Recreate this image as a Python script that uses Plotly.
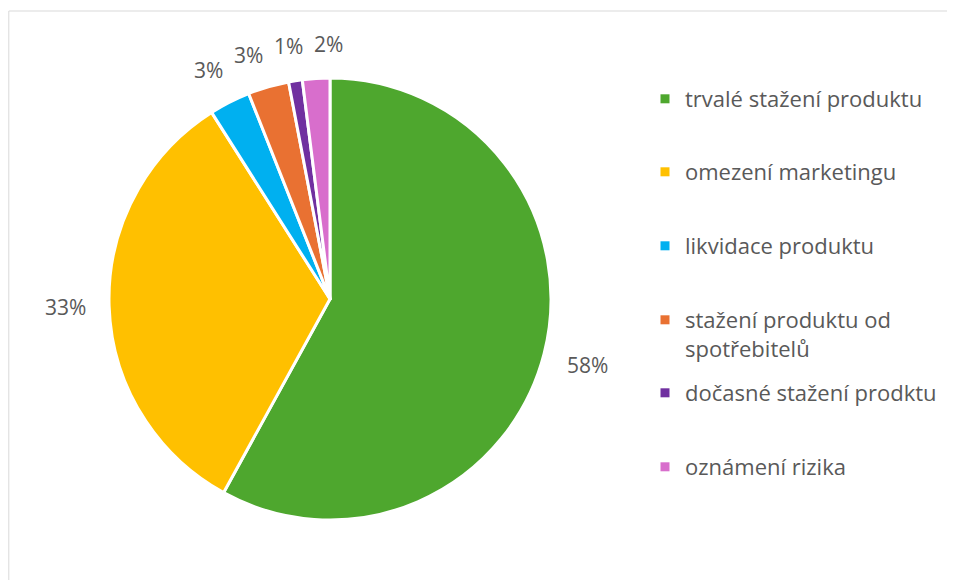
import math
import plotly.graph_objects as go

# data
categories = [
    "trvalé stažení produktu",
    "omezení marketingu",
    "likvidace produktu",
    "stažení produktu od<br>spotřebitelů",
    "dočasné stažení prodktu",
    "oznámení rizika",
]
values = [58, 33, 3, 3, 1, 2]
colors = ["#4EA72E", "#FFC000", "#00B0F0", "#E97132", "#7030A0", "#D86ECC"]

W, H = 955, 580
OFF = 8  # page body margin, everything on screen is shifted by it
font_family = "Open Sans, Lato, Arial, sans-serif"
text_color = "#595959"
label_size = 21


def px_x(x):
    return (x - OFF) / W


def px_y(y):
    return (H - (y - OFF)) / H


# pie geometry (screen pixels)
cx, cy, r = 330, 299, 221

fig = go.Figure()

fig.add_trace(go.Pie(
    labels=categories,
    values=values,
    sort=False,
    direction="clockwise",
    rotation=0,
    marker=dict(colors=colors, line=dict(color="white", width=3)),
    textinfo="none",
    showlegend=False,
    domain=dict(x=[px_x(cx - r), px_x(cx + r)], y=[px_y(cy + r), px_y(cy - r)]),
    hoverinfo="label+percent",
))

# percent labels outside each slice, at the middle angle of the slice
total = sum(values)
texts = [f"{round(v / total * 100)}%" for v in values]
gap = 22
half_h = 11
angles, dists = [], []
cum = 0
for v, t in zip(values, texts):
    a = (cum + v / 2) / total * 2 * math.pi
    cum += v
    half_w = len(t) * 7
    ext = abs(math.sin(a)) * half_w + abs(math.cos(a)) * half_h
    angles.append(a)
    dists.append(r + gap + ext)
pos = [[cx + d * math.sin(a), cy - d * math.cos(a)] for a, d in zip(angles, dists)]

# spread the crowded small labels at the top so they do not overlap
min_gap = 40
for _ in range(50):
    for i in range(len(pos) - 1):
        if pos[i][1] < cy and pos[i + 1][1] < cy:
            deficit = min_gap - (pos[i + 1][0] - pos[i][0])
            if deficit > 0:
                pos[i][0] -= deficit / 2
                pos[i + 1][0] += deficit / 2
    for i, d in enumerate(dists):
        if pos[i][1] < cy:
            a = math.asin(max(-1, min(1, (pos[i][0] - cx) / d)))
            pos[i] = [cx + d * math.sin(a), cy - d * math.cos(a)]

annotations = []
for t, (x, y) in zip(texts, pos):
    annotations.append(dict(
        x=px_x(x), y=px_y(y), xref="paper", yref="paper",
        text=t, showarrow=False,
        xanchor="center", yanchor="middle",
        font=dict(size=label_size, color=text_color, family=font_family),
    ))

# legend entries, each in its own legend box so the spacing can match
legend_y = [99, 172, 246, 320, 393, 467]
legends = {}
for i, (name, color, ly) in enumerate(zip(categories, colors, legend_y)):
    key = "legend" if i == 0 else f"legend{i + 1}"
    fig.add_trace(go.Scatter(
        x=[None], y=[None],
        mode="markers",
        name=name,
        legend=key,
        marker=dict(symbol="square", size=9, color=color),
        hoverinfo="skip",
    ))
    legends[key] = dict(
        x=px_x(645), y=px_y(ly - 21), xanchor="left", yanchor="top",
        font=dict(size=22, color=text_color, family=font_family),
        valign="top", itemwidth=30, bgcolor="rgba(0,0,0,0)",
    )

fig.update_layout(
    width=W,
    height=H,
    margin=dict(l=0, r=0, t=0, b=0, autoexpand=False),
    paper_bgcolor="white",
    plot_bgcolor="white",
    xaxis=dict(visible=False),
    yaxis=dict(visible=False),
    annotations=annotations,
    shapes=[dict(
        type="rect", xref="paper", yref="paper",
        x0=0.8 / W, x1=1.02, y0=-0.02, y1=px_y(11),
        line=dict(color="#D9D9D9", width=1),
    )],
    **legends,
)

fig.write_html("out.html")
